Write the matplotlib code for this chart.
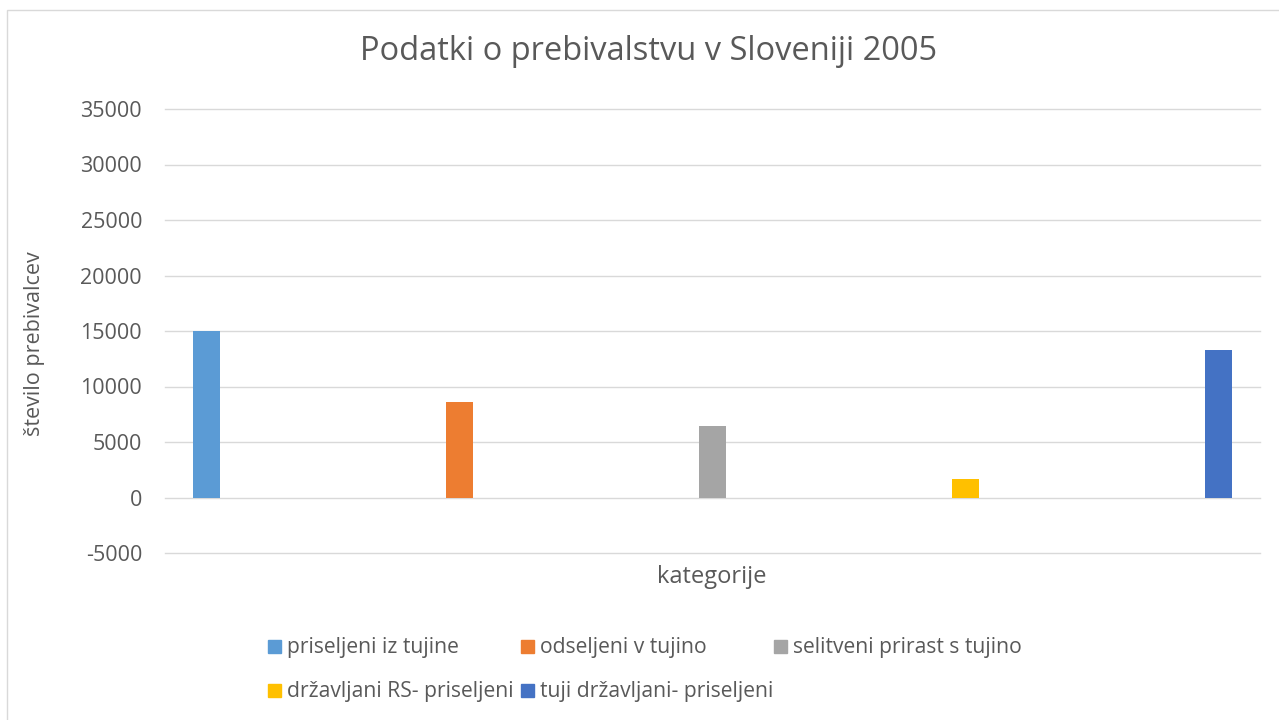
import matplotlib
matplotlib.use("Agg")
import matplotlib.pyplot as plt
from matplotlib.patches import Rectangle

plt.rcParams['font.family'] = ['Open Sans', 'DejaVu Sans']

series = ["priseljeni iz tujine", "odseljeni v tujino", "selitveni prirast s tujino",
          "državljani RS- priseljeni", "tuji državljani- priseljeni"]
values = [15000, 8640, 6440, 1710, 13320]
colors = ["#5B9BD5", "#ED7D31", "#A5A5A5", "#FFC000", "#4472C4"]
yticks = [-5000, 0, 5000, 10000, 15000, 20000, 25000, 30000, 35000]

W, H = 1279, 720
fig = plt.figure(figsize=(W / 100, H / 100), dpi=100)
ax = fig.add_axes([165 / W, 1 - 553 / H, (1260 - 165) / W, (553 - 109) / H])

for i, (v, c) in enumerate(zip(values, colors)):
    ax.bar(i, v, width=27 / 253, color=c, zorder=3)

ax.set_xlim(-0.164, 4.164)
ax.set_ylim(-5000, 35000)
ax.set_yticks(yticks)
ax.set_yticklabels([str(t) for t in yticks])
ax.grid(axis='y', color='#D9D9D9', linewidth=1, zorder=0)
for gl in ax.get_ygridlines():
    gl.set_clip_on(False)
ax.set_xticks([])
for s in ax.spines.values():
    s.set_visible(False)
ax.tick_params(axis='y', length=0, labelsize=15.5, colors='#595959', pad=16.5)

fig.text(649 / W, 1 - 52 / H, "Podatki o prebivalstvu v Sloveniji 2005",
         ha='center', va='center', fontsize=23.5, color='#595959')
fig.text(35 / W, 1 - 344 / H, "število prebivalcev", rotation=90,
         ha='center', va='center', fontsize=15.5, color='#595959')
fig.text(712 / W, 1 - 577 / H, "kategorije", ha='center', va='center',
         fontsize=17, color='#595959')

# legend
pos = [(268, 647), (521, 647), (774, 647), (268, 691), (521, 691)]
for (x, y), name, c in zip(pos, series, colors):
    fig.patches.append(Rectangle((x / W, 1 - (y + 6) / H), 13 / W, 13 / H,
                                 transform=fig.transFigure, color=c))
    fig.text((x + 19) / W, 1 - y / H, name, ha='left', va='center',
             fontsize=15.2, color='#595959')

# outer border
fig.patches.append(Rectangle((7 / W, -0.05), 1.2, 1 - 10 / H + 0.05,
                             transform=fig.transFigure, fill=False,
                             edgecolor='#D9D9D9', linewidth=1))

fig.savefig("out.png", dpi=100)
